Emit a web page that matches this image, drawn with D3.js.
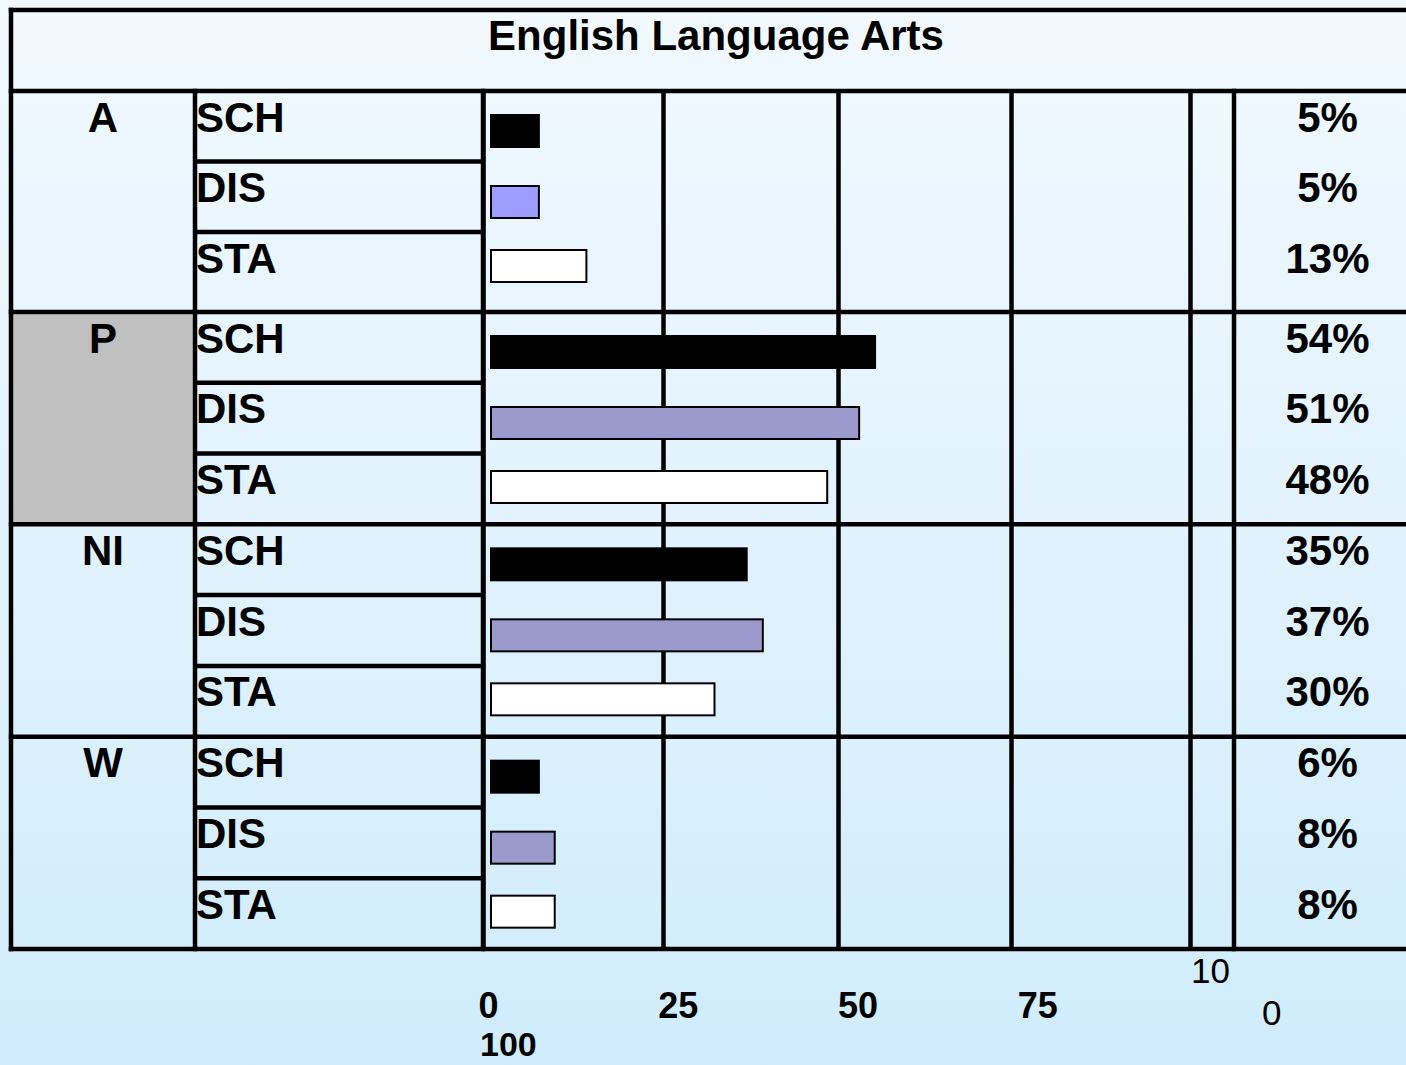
<!DOCTYPE html>
<html>
<head>
<meta charset="utf-8">
<script src="https://cdn.jsdelivr.net/npm/d3@7"></script>
<style>
  html, body { margin: 0; padding: 0; background: #fff; }
  svg { display: block; }
  text { font-family: "Liberation Sans", Arial, Helvetica, sans-serif; }
</style>
</head>
<body>
<svg id="chart" width="1406" height="1065"></svg>
<script>
// ---------------- data ----------------
const title = "English Language Arts";
const groups = ["A", "P", "NI", "W"];
const subgroups = ["SCH", "DIS", "STA"];
// percentages printed in the right-hand column
const schPct = [5, 54, 35, 6];
const disPct = [5, 51, 37, 8];
const staPct = [13, 48, 30, 8];
// bar lengths
const schBar = [7.9, 55.5, 37.1, 7.9];
const disBar = [7.9, 53.2, 39.4, 10.1];
const staBar = [14.5, 48.6, 32.5, 10.1];
// axis
const tickValues = [0, 25, 50, 75, 100];
const tickLabels = ["0", "25", "50", "75"];
const highlightGroup = "P";

// ---------------- layout ----------------
const W = 1406, H = 1065;
const svg = d3.select("#chart");
const LW = 4.5;
const FONT = 42;

const defs = svg.append("defs");
const grad = defs.append("linearGradient").attr("id", "bg")
  .attr("x1", 0).attr("y1", 0).attr("x2", 0).attr("y2", 1);
grad.append("stop").attr("offset", "0%").attr("stop-color", "#F2F9FF");
grad.append("stop").attr("offset", "100%").attr("stop-color", "#D0ECFC");
svg.append("rect").attr("width", W).attr("height", H).attr("fill", "url(#bg)");

const frameLeft = 11, frameRight = 1421, frameTop = 10;
const labelColX = 195;
const pctColX = 1234;

// sub-row scale (12 rows, first group slightly taller)
const rowY = d3.scaleLinear().domain([0, 2, 3, 12]).range([91, 232, 312, 949]);
const tableTop = rowY(0), tableBottom = rowY(12);

// grid scale (piecewise, as drawn in the original)
const x = d3.scaleLinear().domain([0, 25, 50, 75, 100]).range([483, 663, 838, 1011, 1190]);
const barInset = 7;
const barH = 34;
// bar offset from group top for each sub-row
const barOffset = d3.scaleOrdinal().domain(subgroups).range([23, 94, 158]);

// highlighted cell
groups.forEach((g, gi) => {
  if (g === highlightGroup) {
    svg.append("rect")
      .attr("x", frameLeft + LW / 2).attr("y", rowY(gi * 3) + LW / 2)
      .attr("width", labelColX - frameLeft - LW)
      .attr("height", rowY(gi * 3 + 3) - rowY(gi * 3) - LW)
      .attr("fill", "#C0C0C0");
  }
});

// grid lines via axis (drawn under the bars)
const gridAxis = d3.axisBottom(x).tickValues(tickValues)
  .tickSize(-(tableBottom - tableTop)).tickFormat("");
const gridG = svg.append("g").attr("transform", `translate(0,${tableBottom})`).call(gridAxis);
gridG.select(".domain").remove();
gridG.selectAll("line").attr("stroke", "#000").attr("stroke-width", LW);

// bars
const barSeries = [
  { key: "SCH", vals: schBar, fill: () => "#000000", stroke: "#000000" },
  { key: "DIS", vals: disBar, fill: (gi) => gi === 0 ? "#9D9DFF" : "#9A9ACC", stroke: "#000000" },
  { key: "STA", vals: staBar, fill: () => "#FFFFFF", stroke: "#000000" }
];
groups.forEach((g, gi) => {
  const gTop = rowY(gi * 3);
  const gg = svg.append("g");
  gg.selectAll("rect").data(barSeries).join("rect")
    .attr("x", x(0) + barInset + 1)
    .attr("y", d => gTop + barOffset(d.key) + 1)
    .attr("width", d => x(d.vals[gi]) - x(0) - barInset - 2)
    .attr("height", barH - 2)
    .attr("fill", d => d.fill(gi))
    .attr("stroke", d => d.stroke)
    .attr("stroke-width", 2);
});

const lines = svg.append("g").attr("stroke", "#000").attr("stroke-width", LW).attr("stroke-linecap", "square");
// frame
lines.append("line").attr("x1", frameLeft).attr("x2", frameRight).attr("y1", frameTop).attr("y2", frameTop);
lines.append("line").attr("x1", frameLeft).attr("x2", frameLeft).attr("y1", frameTop).attr("y2", tableBottom);
// group horizontal lines
[0, 3, 6, 9, 12].forEach(i => {
  lines.append("line").attr("x1", frameLeft).attr("x2", frameRight).attr("y1", rowY(i)).attr("y2", rowY(i));
});
// column lines
[labelColX, x(0), pctColX].forEach(cx => {
  lines.append("line").attr("x1", cx).attr("x2", cx).attr("y1", tableTop).attr("y2", tableBottom);
});
// sub-row lines in label column
d3.range(12).filter(i => i % 3 !== 0).forEach(i => {
  lines.append("line").attr("x1", labelColX).attr("x2", x(0)).attr("y1", rowY(i)).attr("y2", rowY(i))
    .attr("stroke-linecap", "butt");
});

// title
svg.append("text").attr("x", (frameLeft + frameRight) / 2).attr("y", 50)
  .attr("text-anchor", "middle").attr("font-size", FONT).attr("font-weight", "bold")
  .text(title);

// labels
const pctSeries = [schPct, disPct, staPct];
groups.forEach((g, gi) => {
  svg.append("text").attr("x", (frameLeft + labelColX) / 2).attr("y", rowY(gi * 3) + 40.5)
    .attr("text-anchor", "middle").attr("font-size", FONT).attr("font-weight", "bold").text(g);
  subgroups.forEach((s, si) => {
    const r = gi * 3 + si;
    svg.append("text").attr("x", labelColX + 1).attr("y", rowY(r) + 40.5)
      .attr("font-size", FONT).attr("font-weight", "bold").text(s);
    svg.append("text").attr("x", (pctColX + frameRight) / 2).attr("y", rowY(r) + 40.5)
      .attr("text-anchor", "middle").attr("font-size", FONT).attr("font-weight", "bold")
      .text(pctSeries[si][gi] + "%");
  });
});

// bottom tick labels
const xLab = d3.scaleLinear().domain([0, 100]).range([478, 1197]);
const labAxis = d3.axisBottom(xLab).tickValues(tickValues.slice(0, 4)).tickSize(0)
  .tickFormat((d, i) => tickLabels[i]);
const labG = svg.append("g").call(labAxis);
labG.select(".domain").remove();
labG.selectAll("text").attr("text-anchor", "start").attr("dy", null).attr("y", 1018)
  .attr("fill", "#000").attr("font-size", 36).attr("font-weight", "bold")
  .attr("font-family", '"Liberation Sans", Arial, sans-serif');
// wrapped "100" labels
svg.append("text").attr("x", xLab(0) + 2).attr("y", 1056)
  .attr("font-size", 34).attr("font-weight", "bold").text("100");
svg.append("text").attr("x", xLab(100) - 6).attr("y", 983)
  .attr("font-size", 35).text("10");
svg.append("text").attr("x", xLab(100) + 65).attr("y", 1025)
  .attr("font-size", 35).text("0");
</script>
</body>
</html>
